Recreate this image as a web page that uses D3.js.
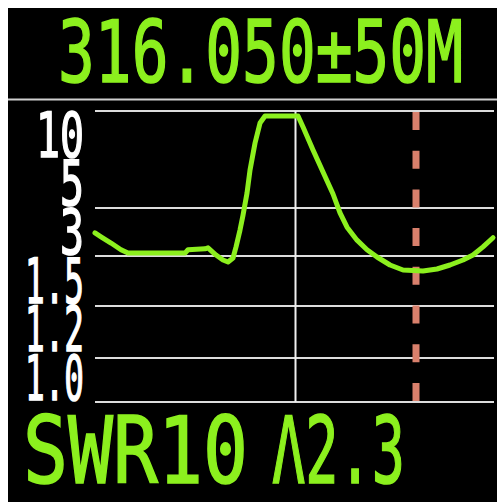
<!DOCTYPE html>
<html>
<head>
<meta charset="utf-8">
<script src="https://cdn.jsdelivr.net/npm/d3@7"></script>
<style>
  html, body { margin: 0; padding: 0; background: #fff; }
  svg { display: block; }
</style>
</head>
<body>
<div id="chart"></div>
<script>
// ---- data ----
const centerFreq = 316.050;
const spanFreq = 50;
const titleText = "316.050±50M";
const footerLeft = "SWR10";
const footerRight = "Λ2.3";
const markerFreq = 346.1;
const gridValues = [10, 3, 2, 1.5, 1.2, 1.0];
const tickLabels = ["10", "5", "3", "1.5", "1.2", "1.0"];
const freqs = [266.05, 267.55, 270.04, 272.53, 274.28, 288.5, 289.25, 293.5, 294.23, 296.23,
  297.97, 299.22, 300.47, 301.22, 302.21, 302.96, 303.96, 304.71, 305.96, 307.2,
  308.45, 316.68, 317.93, 320.42, 322.91, 325.41, 327.15, 328.9, 331.39, 333.88,
  336.38, 339.62, 342.86, 347.85, 351.34, 354.58, 357.82, 360.32, 362.81, 365.3];
const swrValues = [2.48, 2.40, 2.27, 2.13, 2.06, 2.06, 2.13, 2.15, 2.17, 2.02,
  1.96, 1.94, 1.98, 2.19, 2.54, 2.85, 4.08, 5.74, 7.69, 9.13,
  9.64, 9.64, 8.85, 7.19, 5.60, 4.01, 2.90, 2.60, 2.33, 2.13,
  1.99, 1.91, 1.86, 1.85, 1.87, 1.91, 1.96, 2.02, 2.19, 2.38];

// ---- layout ----
const W = 497, H = 502;
const green = "#8cf01e";
const svg = d3.select("#chart").append("svg").attr("width", W).attr("height", H);
svg.append("rect").attr("x", 0).attr("y", 0).attr("width", W).attr("height", H).attr("fill", "#fff");
svg.append("rect").attr("x", 8).attr("y", 8).attr("width", W - 8).attr("height", H - 8).attr("fill", "#000");

const x = d3.scaleLinear().domain([centerFreq - spanFreq, centerFreq + spanFreq]).range([95, 496]);
const y = d3.scaleLinear().domain([1, 1.2, 1.5, 2, 3, 10]).range([402, 358, 306, 256, 208, 111]);
const labelBand = d3.scaleBand().domain(tickLabels).range([110, 402]);

function styleText(sel, size, color) {
  return sel.attr("font-family", "DejaVu Sans Mono")
    .attr("font-size", size)
    .attr("fill", color)
    .attr("stroke", color)
    .attr("stroke-width", 1.6)
    .attr("lengthAdjust", "spacingAndGlyphs");
}

// title
styleText(svg.append("text"), 85, green)
  .attr("x", 58).attr("y", 82)
  .attr("textLength", 405)
  .text(titleText);

// separator
svg.append("line").attr("x1", 8).attr("x2", W).attr("y1", 99.5).attr("y2", 99.5)
  .attr("stroke", "#cfcfcf").attr("stroke-width", 2);

// gridlines
svg.append("g").selectAll("line").data(gridValues).join("line")
  .attr("x1", x.range()[0]).attr("x2", 494)
  .attr("y1", d => y(d)).attr("y2", d => y(d))
  .attr("stroke", "#dcdcdc").attr("stroke-width", 2);

// center vertical line
svg.append("line").attr("x1", x(centerFreq)).attr("x2", x(centerFreq))
  .attr("y1", y(10)).attr("y2", y(1))
  .attr("stroke", "#f0f0f0").attr("stroke-width", 2);

// y labels
function labelWidth(s) {
  let w = 0;
  for (const c of s) w += (c === ".") ? 11 : 24;
  return w;
}
styleText(svg.append("g").selectAll("text").data(tickLabels).join("text"), 62, "#fff")
  .attr("x", d => 84 - labelWidth(d))
  .attr("y", d => labelBand(d) + labelBand.bandwidth() - 2)
  .attr("textLength", d => labelWidth(d))
  .text(d => d);

// marker dashed line
svg.append("line").attr("x1", x(markerFreq)).attr("x2", x(markerFreq))
  .attr("y1", 112).attr("y2", 401)
  .attr("stroke", "#d9806c").attr("stroke-width", 7)
  .attr("stroke-dasharray", "18 20.7");

// curve
const pts = freqs.map((f, i) => [f, swrValues[i]]);
svg.append("path").datum(pts)
  .attr("d", d3.line().x(d => x(d[0])).y(d => y(d[1])))
  .attr("fill", "none")
  .attr("stroke", green)
  .attr("stroke-width", 5)
  .attr("stroke-linejoin", "round")
  .attr("stroke-linecap", "round");

// footer
styleText(svg.append("text"), 93, green)
  .attr("x", 23).attr("y", 483)
  .attr("textLength", 225)
  .text(footerLeft);
styleText(svg.append("text"), 93, green)
  .attr("x", 272).attr("y", 483)
  .attr("textLength", 133)
  .text(footerRight);
</script>
</body>
</html>
